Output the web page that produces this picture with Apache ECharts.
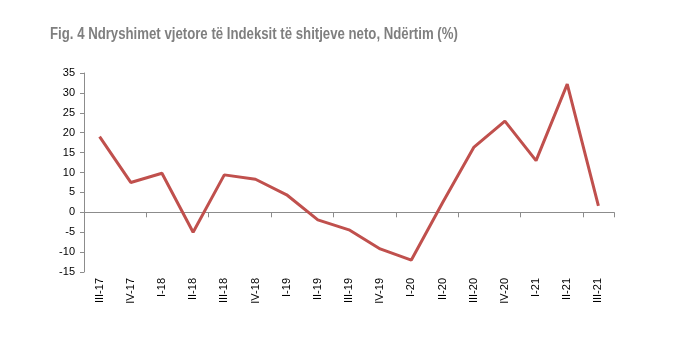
<!DOCTYPE html>
<html><head><meta charset="utf-8">
<script src="https://cdn.jsdelivr.net/npm/echarts@6/dist/echarts.min.js"></script>
<style>html,body{margin:0;padding:0;background:#fff}#c{width:677px;height:342px}</style>
</head><body><div id="c"></div>
<script>
const categories = ['III-17','IV-17','I-18','II-18','III-18','IV-18','I-19','II-19','III-19','IV-19','I-20','II-20','III-20','IV-20','I-21','II-21','III-21'];
const values = [19.0, 7.5, 9.8, -5.0, 9.4, 8.3, 4.4, -1.9, -4.4, -9.2, -12.0, 2.4, 16.3, 22.9, 13.0, 32.2, 1.6];
const yMin = -15, yMax = 35, yStep = 5;
const titleText = 'Fig. 4 Ndryshimet vjetore të Indeksit të shitjeve neto, Ndërtim (%)';

const chart = echarts.init(document.getElementById('c'), null, {renderer:'canvas'});
chart.setOption({
  animation: false,
  backgroundColor: '#fff',
  graphic: [{
    type: 'text', x: 50, y: 35, scaleX: 0.825,
    style: {text: titleText, font: 'bold 16px "Liberation Sans", Arial', fill: '#7f7f7f', textVerticalAlign: 'middle', textAlign: 'left'}
  }],
  grid: {left: 84, right: 63, top: 73, bottom: 70},
  xAxis: [
    {type: 'category', data: categories, position: 'bottom',
     axisLine: {show: false, onZero: false}, axisTick: {show: false},
     axisLabel: {rotate: 90, margin: 6, fontFamily: 'Liberation Sans, Arial', fontSize: 11, color: '#000', interval: 0}},
    {type: 'category', data: categories, position: 'top',
     axisLine: {show: true, onZero: true, lineStyle: {color: '#8c8c8c', width: 1}},
     axisTick: {show: true, inside: true, length: 5, lineStyle: {color: '#8c8c8c'}},
     axisLabel: {show: false}}
  ],
  yAxis: {
    type: 'value', min: yMin, max: yMax, interval: yStep,
    axisLine: {show: true, lineStyle: {color: '#8c8c8c', width: 1}},
    axisTick: {show: true, length: 4, lineStyle: {color: '#8c8c8c'}},
    splitLine: {show: false},
    axisLabel: {margin: 9, fontFamily: 'Liberation Sans, Arial', fontSize: 11, color: '#000'}
  },
  series: [{
    type: 'line', data: values, xAxisIndex: 0, symbol: 'none',
    lineStyle: {color: '#C0504D', width: 3}
  }]
});
</script></body></html>
